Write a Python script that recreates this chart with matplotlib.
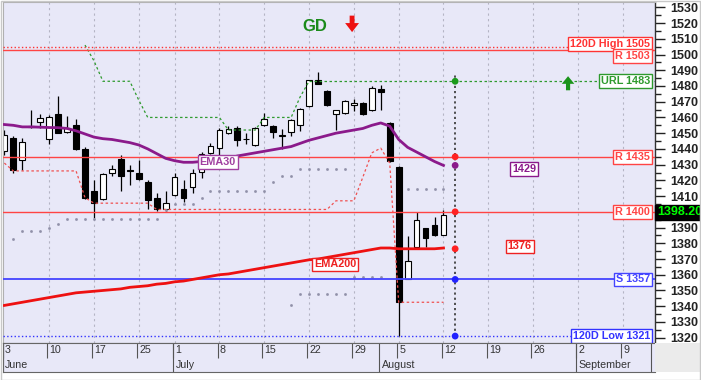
import numpy as np
import matplotlib
matplotlib.use("Agg")
import matplotlib.pyplot as plt
from matplotlib import transforms
from matplotlib.patches import Rectangle

plt.rcParams['font.family'] = ['Liberation Sans', 'DejaVu Sans']

# ---------------- data ----------------
opens = [1438.5, 1447, 1433, 1454, 1457, 1446, 1462.5, 1451, 1455, 1440,
         1413, 1408, 1424.5, 1433.5, 1426.5, 1425, 1419, 1408.5, 1401.5, 1410.5,
         1414.5, 1416, 1425.5, 1437.5, 1440.5, 1450, 1453.5, 1446, 1442.5, 1455,
         1454.5, 1448.5, 1450.5, 1455, 1467, 1483.5, 1477, 1462.5, 1463, 1468,
         1469.5, 1464.5, 1478, 1456.5, 1428.5, 1357.5, 1377.5, 1389.5, 1391.5, 1385.5]
highs = [1452, 1448, 1447, 1464.5, 1462.5, 1461.5, 1473.5, 1461, 1459, 1441,
         1420.5, 1425, 1430, 1436, 1430, 1433, 1420.5, 1412, 1413, 1424.5,
         1420, 1427, 1438, 1443.5, 1453, 1454.5, 1454.5, 1450, 1454, 1463,
         1455.5, 1452.5, 1459, 1466, 1484, 1489, 1477.5, 1465, 1471, 1472,
         1470, 1480, 1480.5, 1457, 1429, 1384.5, 1400, 1390, 1396.5, 1401]
lows = [1436, 1425, 1426.5, 1453.5, 1453.5, 1443, 1450, 1450, 1439.5, 1408,
        1396, 1407.5, 1422.5, 1413, 1417, 1420, 1401.5, 1400.5, 1400.5, 1410,
        1406, 1412, 1421.5, 1437, 1435.5, 1449.5, 1442, 1443, 1442, 1454.5,
        1447, 1440, 1448.5, 1451.5, 1466.5, 1481, 1467.5, 1452, 1462.5, 1464,
        1461.5, 1464, 1465, 1431.5, 1321, 1357, 1377, 1377.5, 1384.5, 1385]
closes = [1449, 1426.5, 1444.5, 1454.5, 1459.5, 1460, 1450, 1453, 1440, 1408.5,
          1405.5, 1424, 1427.5, 1423, 1426, 1421, 1407.5, 1401.5, 1405.5, 1422,
          1408.5, 1424.5, 1436.5, 1442, 1452, 1452.5, 1445.5, 1446.5, 1453.5, 1459,
          1450.5, 1449, 1458.5, 1465.5, 1483.5, 1481.5, 1468, 1464.5, 1470.5, 1469.5,
          1462, 1479, 1476, 1432.5, 1342.5, 1368.5, 1395, 1383.5, 1385, 1398.2]

ema30 = [1455.5, 1455, 1454, 1454, 1453.8, 1453.6, 1453.5, 1453, 1451.5, 1449.5,
         1447.5, 1446.5, 1446, 1445, 1444, 1442.5, 1440, 1437, 1434, 1432.5,
         1431.5, 1431.5, 1432, 1432, 1432.5, 1434, 1435.5, 1436.5, 1437.5, 1438.5,
         1439.5, 1440.5, 1441.5, 1443.5, 1445.5, 1447, 1448.5, 1450, 1451, 1452,
         1453, 1455, 1456.5, 1454.5, 1446, 1441, 1438, 1435, 1432, 1429.5]
ema200 = [1340.5, 1341.5, 1342.5, 1343.5, 1344.5, 1345.5, 1346.5, 1347.5, 1348.5, 1349,
          1349.5, 1350, 1350.5, 1351, 1352, 1352.5, 1353, 1354, 1354.5, 1355.5,
          1356, 1357, 1358, 1359, 1360, 1360.5, 1361.5, 1362.5, 1363.5, 1364.5,
          1365.5, 1366.5, 1367.5, 1368.5, 1369.5, 1370, 1371, 1372, 1373, 1374,
          1375, 1376, 1377, 1377, 1376.5, 1376.5, 1376.5, 1376.5, 1376.5, 1377]

nan = np.nan
upper_chan = [nan] * 9 + [1506, 1496, 1483, 1483, 1483, 1483, 1471, 1460, 1460, 1460,
              1460, 1460, 1460, 1460, 1460, 1460, 1452, 1452, 1452, 1452,
              1460, 1460, 1460, 1460, 1473, 1483]
lower_chan = [1431, 1426, 1426, 1426, 1426, 1426, 1426, 1426, 1426, 1409,
              1405.5, 1405.5, 1405.5, 1405.5, 1405.5, 1405.5, 1405.5, 1401.5, 1401.5, 1401.5,
              1401.5, 1401.5, 1401.5, 1401.5, 1401.5, 1401.5, 1401.5, 1401.5, 1401.5, 1401.5,
              1401.5, 1401.5, 1401.5, 1401.5, 1401.5, 1401.5, 1401.5, 1407, 1407, 1407,
              1422, 1437.5, 1440.5, 1431, 1342.5, 1342.5, 1342.5, 1342.5, 1342.5, 1342.5]
gray_upper = [nan, 1383, 1388, 1388, 1388, 1389.5, 1392, 1395.7, 1395.7, 1395.7,
              1395.7, 1395.7, 1395.7, 1395.7, 1395.7, 1395.7, 1395.7, 1395.7, 1401, 1405,
              1405, 1405, 1409, 1413, 1413, 1413, 1413, 1413, 1413, 1413,
              1419, 1423, 1423, 1427, 1427, 1427, 1427, 1427, 1427, nan,
              nan, nan, nan, nan, nan, 1414.5, 1414.5, 1414.5, 1414.5, 1414.5]
gray_lower = [nan] * 32 + [1341, 1347.5, 1347.5, 1347.5, 1347.5, 1347.5, 1347.5,
                           1358.6, 1358.6, 1358.6, 1358.6] + [nan] * 7

# horizontal levels: (value, label, color, style)
levels = [
    (1505, '120D High 1505', '#FF3333', ':'),
    (1503, 'R 1503', '#FF4444', '-'),
    (1435, 'R 1435', '#FF4444', '-'),
    (1400, 'R 1400', '#FF4444', '-'),
    (1357, 'S 1357', '#4444FF', '-'),
    (1321, '120D Low 1321', '#3333FF', ':'),
]
url_level = 1483
url_start = 34

proj_x = 50.3
proj_vals = [1483, 1435, 1429.5, 1400, 1376.5, 1357, 1321]
proj_cols = ['#1A9A1A', '#FF2222', '#8B1A8B', '#FF2222', '#FF2222', '#2222FF', '#2222FF']

day_ticks = [0, 5, 10, 15, 19, 24, 29, 34, 39, 44, 49, 54, 59, 64, 69]
day_labels = ['3', '10', '17', '25', '1', '8', '15', '22', '29', '5', '12', '19', '26', '2', '9']
month_ticks = [0, 19, 42, 64]
month_labels = ['June', 'July', 'August', 'September']

last_price = '1398.20'

# ---------------- figure ----------------
W, H = 701, 380
fig = plt.figure(figsize=(W / 100, H / 100), dpi=100)
fig.patch.set_facecolor('white')

ax = fig.add_axes([3 / W, 1 - 343 / H, 652 / W, 341 / H])
ax.set_facecolor('#E8E8F8')
XMAX = 72.6
ax.set_xlim(-0.15, XMAX)
ax.set_ylim(1316.6, 1533.4)

x = np.arange(len(opens))

# vertical grid
for t in day_ticks[1:]:
    ax.axvline(t, color='#B4B4C4', lw=0.8, ls=(0, (2, 3)), zorder=1)

# candles
o = np.array(opens); c = np.array(closes)
ax.vlines(x, lows, highs, color='black', lw=0.9, zorder=2)
bottoms = np.minimum(o, c)
heights = np.maximum(np.abs(c - o), 0.6)
cols = ['white' if cc >= oo else 'black' for oo, cc in zip(o, c)]
ax.bar(x, heights, bottom=bottoms, width=0.64, color=cols, edgecolor='black',
       linewidth=0.8, zorder=2.2)

# channels / dots
ax.plot(x[:len(upper_chan)], upper_chan, color='#2E9A2E', lw=0.9, ls=(0, (2, 2)), zorder=2.5)
ax.plot(x, lower_chan, color='#F05050', lw=0.9, ls=(0, (2, 2)), zorder=2.5)
ax.plot(x, gray_upper, ls='none', marker='s', ms=0.9, color='#9090A8', zorder=2.5)
ax.plot(x, gray_lower, ls='none', marker='s', ms=0.9, color='#9090A8', zorder=2.5)

# levels
for val, lab, col, st in levels:
    ax.axhline(val, color=col, lw=1.3 if lab.startswith('S') else 1.0, ls=st, zorder=3)
ax.hlines(url_level, url_start, XMAX, color='#2E9A2E', lw=0.9, ls=(0, (2, 2)), zorder=3)

# EMAs
ax.plot(x, ema30, color='#8B1A8B', lw=2.0, zorder=4)
ax.plot(x, ema200, color='#EE1111', lw=2.0, zorder=4)

# projection
ax.vlines(proj_x, min(proj_vals), max(proj_vals) + 5, colors='#333333', lw=1.2,
          linestyles=(0, (1.3, 1.8)), zorder=4.5)
ax.scatter([proj_x] * len(proj_vals), proj_vals, s=24, c=proj_cols, zorder=5, edgecolors='none')

# labels inside plot (right)
def box(xv, yv, s, col, ha='right', tr=None):
    kw = dict(transform=tr) if tr is not None else {}
    ax.text(xv, yv, s, color=col, fontsize=7.8, fontweight='bold',
            ha=ha, va='center', zorder=6,
            bbox=dict(boxstyle='square,pad=0.17', fc='white', ec=col, lw=1.0), **kw)

bt = transforms.blended_transform_factory(ax.transAxes, ax.transData)
label_offsets = {'120D High 1505': 1.5, 'R 1503': -3.8}
for val, lab, col, st in levels:
    box(0.992, val + label_offsets.get(lab, 0), lab, col, tr=bt)
box(0.992, url_level, 'URL 1483', '#2E9A2E', tr=bt)

box(23.8, 1431.5, 'EMA30', '#A040A0', ha='center')
box(36.9, 1366.6, 'EMA200', '#EE2222', ha='center')
box(58.0, 1427.3, '1429', '#8B1A8B', ha='center')
box(57.5, 1378.0, '1376', '#EE2222', ha='center')

ax.text(34.66, 1518, 'GD', color='#1A8A1A', fontsize=12, fontweight='bold',
        ha='center', va='center', zorder=6)
ax.annotate('', xy=(38.8, 1512.5), xytext=(38.8, 1526.5),
            arrowprops=dict(arrowstyle='simple,head_length=0.65,head_width=1.0,tail_width=0.35',
                            color='#EE1111', lw=0))
ax.annotate('', xy=(62.9, 1488), xytext=(62.9, 1475.5),
            arrowprops=dict(arrowstyle='simple,head_length=0.55,head_width=0.9,tail_width=0.3',
                            color='#1A941A', lw=0))

# right axis
ax.yaxis.tick_right()
yt = np.arange(1320, 1531, 10)
ax.set_yticks(yt)
ax.set_yticklabels(['' if v == 1400 else str(v) for v in yt])
ax.set_yticks(np.arange(1320, 1531, 5), minor=True)
ax.tick_params(axis='y', which='major', length=7, width=1, pad=4, labelsize=9,
               colors='#222222', direction='out')
ax.tick_params(axis='y', which='minor', length=4, width=1, colors='#222222', direction='out')
for lbl in ax.get_yticklabels():
    lbl.set_fontweight('bold')
ax.set_xticks([])
for s in ['left', 'top']:
    ax.spines[s].set_color('#B0B0B0')
    ax.spines[s].set_linewidth(0.8)
ax.spines['right'].set_color('#333333')
ax.spines['right'].set_linewidth(1.0)
ax.spines['bottom'].set_color('#555555')

ax.text(1.003, 1399.8, last_price, transform=bt, color='#00FF00', fontsize=9,
        fontweight='bold', ha='left', va='center', clip_on=False, zorder=10,
        bbox=dict(boxstyle='square,pad=0.12', fc='black', ec='black'))

# date axis
dax = fig.add_axes([3 / W, 1 - 372 / H, 652 / W, 29 / H])
dax.set_facecolor('#E8E8F8')
dax.set_xlim(-0.15, XMAX)
dax.set_ylim(0, 2)
dax.set_xticks([]); dax.set_yticks([])
for s in dax.spines.values():
    s.set_color('#666666'); s.set_linewidth(0.8)
dax.spines['right'].set_visible(False)
for t, lab in zip(day_ticks, day_labels):
    dax.vlines(t - 0.2, 1, 2, color='#555555', lw=0.8)
    dax.text(t - 0.2 + 0.25, 1.5, lab, fontsize=7.7, color='#333333', ha='left', va='center')
for t, lab in zip(month_ticks, month_labels):
    dax.vlines(t - 0.2, 0, 2, color='#555555', lw=0.8)
    dax.text(t - 0.2 + 0.3, 0.5, lab, fontsize=7.7, color='#333333', ha='left', va='center')
dax.vlines(XMAX - 0.4, 0, 2, color='#555555', lw=0.8)

fig.patches.append(Rectangle((655 / W, 1 - 372 / H), 45 / W, 29 / H, transform=fig.transFigure,
                             fc='#EBEBEB', ec='none', zorder=0))
fig.patches.append(Rectangle((0.5 / W, 0.5 / H), 699.5 / W, 378.5 / H, transform=fig.transFigure,
                             fc='none', ec='#C8C8C8', lw=1, zorder=0))

fig.savefig('out.png', dpi=100)
